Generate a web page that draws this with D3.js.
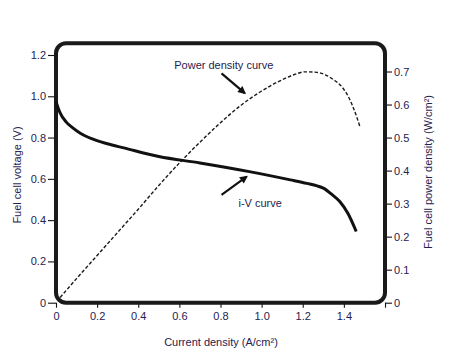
<!DOCTYPE html>
<html>
<head>
<meta charset="utf-8">
<script src="https://cdn.jsdelivr.net/npm/d3@7"></script>
<style>
  html, body { margin: 0; padding: 0; background: #fff; }
  svg text { font-family: "Liberation Sans", Arial, Helvetica, sans-serif; }
</style>
</head>
<body>
<svg id="chart" width="461" height="355"></svg>
<script>
// ---- data ----
const ivCurrent = [0, 0.01, 0.02, 0.05, 0.08, 0.12, 0.17, 0.25, 0.33, 0.5, 0.7, 0.94, 1.14, 1.22, 1.27, 1.3, 1.34, 1.38, 1.42, 1.46];
const ivVoltage = [0.975, 0.945, 0.92, 0.875, 0.848, 0.82, 0.796, 0.77, 0.75, 0.708, 0.677, 0.635, 0.595, 0.578, 0.566, 0.555, 0.526, 0.49, 0.432, 0.345];

const pdCurrent = [0.02, 0.1, 0.2, 0.3, 0.4, 0.5, 0.6, 0.7, 0.8, 0.9, 1.0, 1.1, 1.16, 1.21, 1.26, 1.31, 1.35, 1.39, 1.42, 1.445, 1.465, 1.478];
const pdPower   = [0.016, 0.073, 0.143, 0.213, 0.283, 0.355, 0.423, 0.486, 0.545, 0.598, 0.641, 0.675, 0.691, 0.699, 0.698, 0.69, 0.675, 0.654, 0.626, 0.592, 0.558, 0.533];

const xTicks = [0, 0.2, 0.4, 0.6, 0.8, 1.0, 1.2, 1.4, 1.6];
const xTickLabels = ["0", "0.2", "0.4", "0.6", "0.8", "1.0", "1.2", "1.4", ""];
const yLeftTicks = [0, 0.2, 0.4, 0.6, 0.8, 1.0, 1.2];
const yLeftTickLabels = ["0", "0.2", "0.4", "0.6", "0.8", "1.0", "1.2"];
const yRightTicks = [0, 0.1, 0.2, 0.3, 0.4, 0.5, 0.6, 0.7];
const yRightTickLabels = ["0", "0.1", "0.2", "0.3", "0.4", "0.5", "0.6", "0.7"];

const xTitle = "Current density (A/cm\u00B2)";
const yLeftTitle = "Fuel cell voltage (V)";
const yRightTitle = "Fuel cell power density (W/cm\u00B2)";

// annotations in data units (x: current, y: voltage axis)
const annotations = [
  { text: "Power density curve", tx: 0.816, ty: 1.152, from: [0.805, 1.111], to: [0.918, 1.015] },
  { text: "i-V curve", tx: 0.993, ty: 0.482, from: [0.805, 0.522], to: [0.927, 0.611] }
];

// ---- layout ----
const svg = d3.select("#chart");
const plotLeft = 56, plotRight = 385, plotTop = 43.3, plotBottom = 302.7;
const textColor = "#1f2250";

const x = d3.scaleLinear().domain([0, 1.6]).range([plotLeft, plotRight]);
const yL = d3.scaleLinear().domain([0, 1.2]).range([plotBottom, 55]);
const yR = d3.scaleLinear().domain([0, 0.75]).range([plotBottom, 55]);

// axes
const xAxis = d3.axisBottom(x).tickValues(xTicks).tickSize(5).tickPadding(5)
  .tickFormat((d, i) => xTickLabels[i]);
const yLAxis = d3.axisLeft(yL).tickValues(yLeftTicks).tickSize(8).tickPadding(2)
  .tickFormat((d, i) => yLeftTickLabels[i]);
const yRAxis = d3.axisRight(yR).tickValues(yRightTicks).tickSize(7).tickPadding(2)
  .tickFormat((d, i) => yRightTickLabels[i]);

function styleAxis(g) {
  g.select(".domain").remove();
  g.selectAll(".tick line").attr("stroke", "#111").attr("stroke-width", 1.1);
  g.selectAll(".tick text").attr("fill", textColor).attr("font-size", 11)
    .attr("font-family", "'Liberation Sans', Arial, Helvetica, sans-serif");
}

svg.append("g").attr("transform", `translate(0,${plotBottom})`).call(xAxis).call(styleAxis);
svg.append("g").attr("transform", `translate(${plotLeft},0)`).call(yLAxis).call(styleAxis);
svg.append("g").attr("transform", `translate(${plotRight},0)`).call(yRAxis).call(styleAxis);

// frame
svg.append("rect")
  .attr("x", plotLeft).attr("y", plotTop)
  .attr("width", plotRight - plotLeft).attr("height", plotBottom - plotTop)
  .attr("rx", 10).attr("ry", 10)
  .attr("fill", "none").attr("stroke", "#1a1a1a").attr("stroke-width", 4);

// curves
const ivData = ivCurrent.map((c, i) => [c, ivVoltage[i]]);
const pdData = pdCurrent.map((c, i) => [c, pdPower[i]]);

svg.append("path")
  .datum(pdData)
  .attr("fill", "none").attr("stroke", "#1a1a1a").attr("stroke-width", 1.4)
  .attr("stroke-dasharray", "3.5,2")
  .attr("d", d3.line().x(d => x(d[0])).y(d => yR(d[1])).curve(d3.curveMonotoneX));

svg.append("path")
  .datum(ivData)
  .attr("fill", "none").attr("stroke", "#111").attr("stroke-width", 3)
  .attr("stroke-linecap", "butt")
  .attr("d", d3.line().x(d => x(d[0])).y(d => yL(d[1])).curve(d3.curveMonotoneX));

// arrow marker
const defs = svg.append("defs");
defs.append("marker")
  .attr("id", "arrow").attr("viewBox", "0 0 10 10")
  .attr("refX", 8).attr("refY", 5)
  .attr("markerUnits", "userSpaceOnUse")
  .attr("markerWidth", 9).attr("markerHeight", 8)
  .attr("orient", "auto")
  .append("path").attr("d", "M0,0 L10,5 L0,10 Z").attr("fill", "#111");

annotations.forEach(a => {
  svg.append("line")
    .attr("x1", x(a.from[0])).attr("y1", yL(a.from[1]))
    .attr("x2", x(a.to[0])).attr("y2", yL(a.to[1]))
    .attr("stroke", "#111").attr("stroke-width", 2.2)
    .attr("marker-end", "url(#arrow)");
  svg.append("text")
    .attr("x", x(a.tx)).attr("y", yL(a.ty))
    .attr("text-anchor", "middle").attr("dominant-baseline", "central")
    .attr("font-size", 11).attr("fill", textColor)
    .text(a.text);
});

// axis titles
svg.append("text")
  .attr("x", 221).attr("y", 342)
  .attr("text-anchor", "middle").attr("dominant-baseline", "central")
  .attr("font-size", 11).attr("fill", textColor)
  .text(xTitle);

svg.append("text")
  .attr("transform", `translate(17,175) rotate(-90)`)
  .attr("text-anchor", "middle").attr("dominant-baseline", "central")
  .attr("font-size", 11).attr("fill", textColor)
  .text(yLeftTitle);

svg.append("text")
  .attr("transform", `translate(428,172) rotate(-90)`)
  .attr("text-anchor", "middle").attr("dominant-baseline", "central")
  .attr("font-size", 11).attr("fill", textColor)
  .text(yRightTitle);
</script>
</body>
</html>
